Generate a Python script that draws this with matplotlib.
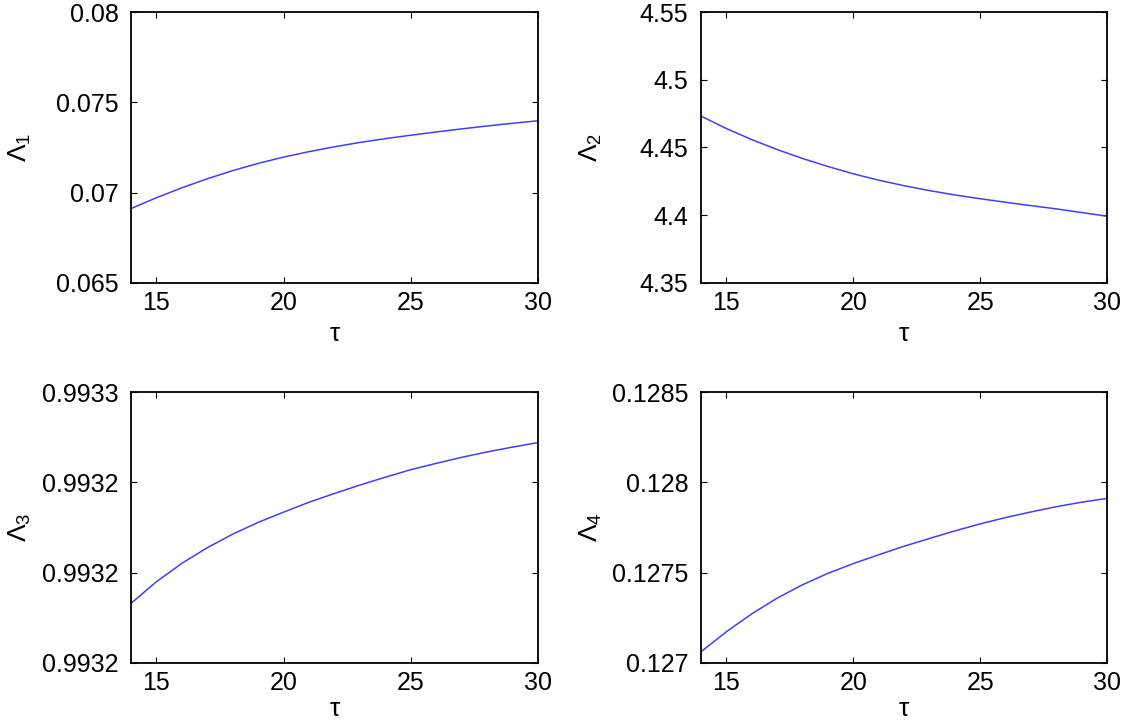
import matplotlib
matplotlib.use("Agg")
import matplotlib.pyplot as plt

plt.rcParams['font.family'] = ['Liberation Sans', 'DejaVu Sans']
plt.rcParams['mathtext.fontset'] = 'custom'
plt.rcParams['mathtext.rm'] = 'Liberation Sans'
plt.rcParams['mathtext.it'] = 'Liberation Sans'
plt.rcParams['mathtext.bf'] = 'Liberation Sans:bold'

tau = [14, 15, 16, 17, 18, 19, 20, 21, 22, 23, 24, 25, 26, 27, 28, 29, 30]

lambda1 = [0.06912, 0.06972, 0.07027, 0.07077, 0.07122, 0.07162, 0.07197, 0.07227, 0.07254,
           0.07278, 0.07299, 0.07318, 0.07336, 0.07353, 0.07369, 0.07384, 0.07398]
lambda2 = [4.4732, 4.4640, 4.4558, 4.4485, 4.4419, 4.4360, 4.4306, 4.4259, 4.4218,
           4.4182, 4.4150, 4.4122, 4.4096, 4.4071, 4.4047, 4.4020, 4.3993]
lambda3 = [0.9931798, 0.9931870, 0.9931931, 0.9931983, 0.9932028, 0.9932067, 0.9932101,
           0.9932134, 0.9932163, 0.9932191, 0.9932217, 0.9932242, 0.9932263, 0.9932283,
           0.9932301, 0.9932317, 0.9932332]
lambda4 = [0.127062, 0.127173, 0.127272, 0.127359, 0.127433, 0.127496, 0.127550, 0.127599,
           0.127646, 0.127689, 0.127731, 0.127770, 0.127805, 0.127836, 0.127865, 0.127890,
           0.127911]

x_ticks = [15, 20, 25, 30]
x_tick_labels = ['15', '20', '25', '30']

y1_ticks = [0.065, 0.07, 0.075, 0.08]
y1_labels = ['0.065', '0.07', '0.075', '0.08']
y2_ticks = [4.35, 4.4, 4.45, 4.5, 4.55]
y2_labels = ['4.35', '4.4', '4.45', '4.5', '4.55']
y3_ticks = [0.99316, 0.99319, 0.99322, 0.99325]
y3_labels = ['0.9932', '0.9932', '0.9932', '0.9933']
y4_ticks = [0.127, 0.1275, 0.128, 0.1285]
y4_labels = ['0.127', '0.1275', '0.128', '0.1285']

ylabels = [r'$\Lambda_1$', r'$\Lambda_2$', r'$\Lambda_3$', r'$\Lambda_4$']

W, H = 1122, 724
fig = plt.figure(figsize=(W / 100, H / 100), dpi=100)

boxes = [(131, 12, 538, 283), (701, 12, 1107, 283),
         (131, 392, 538, 663), (701, 392, 1107, 663)]
xlabel_y = [-0.145, -0.145, -0.125, -0.125]
series = [lambda1, lambda2, lambda3, lambda4]
yticks = [y1_ticks, y2_ticks, y3_ticks, y4_ticks]
ylabs = [y1_labels, y2_labels, y3_labels, y4_labels]

for (l, t, r, b), ys, yt, yl, lab, xly in zip(boxes, series, yticks, ylabs, ylabels, xlabel_y):
    ax = fig.add_axes([l / W, 1 - b / H, (r - l) / W, (b - t) / H])
    ax.plot(tau, ys, color=(0.25, 0.25, 0.95), linewidth=1.1)
    ax.set_xlim(14, 30)
    ax.set_ylim(yt[0], yt[-1])
    ax.set_xticks(x_ticks)
    ax.set_xticklabels(x_tick_labels)
    ax.set_yticks(yt)
    ax.set_yticklabels(yl)
    ax.tick_params(direction='in', top=True, right=True, length=4, width=0.8,
                   labelsize=18, colors='black')
    ax.tick_params(axis='y', pad=9)
    ax.tick_params(axis='x', pad=6)
    for sp in ax.spines.values():
        sp.set_linewidth(1.3)
    ax.set_xlabel('τ', fontsize=19)
    ax.xaxis.set_label_coords(0.5, xly)
    ax.set_ylabel(lab, fontsize=19)
    ax.yaxis.set_label_coords(-0.24, 0.5)

fig.savefig('out.png', dpi=100)
